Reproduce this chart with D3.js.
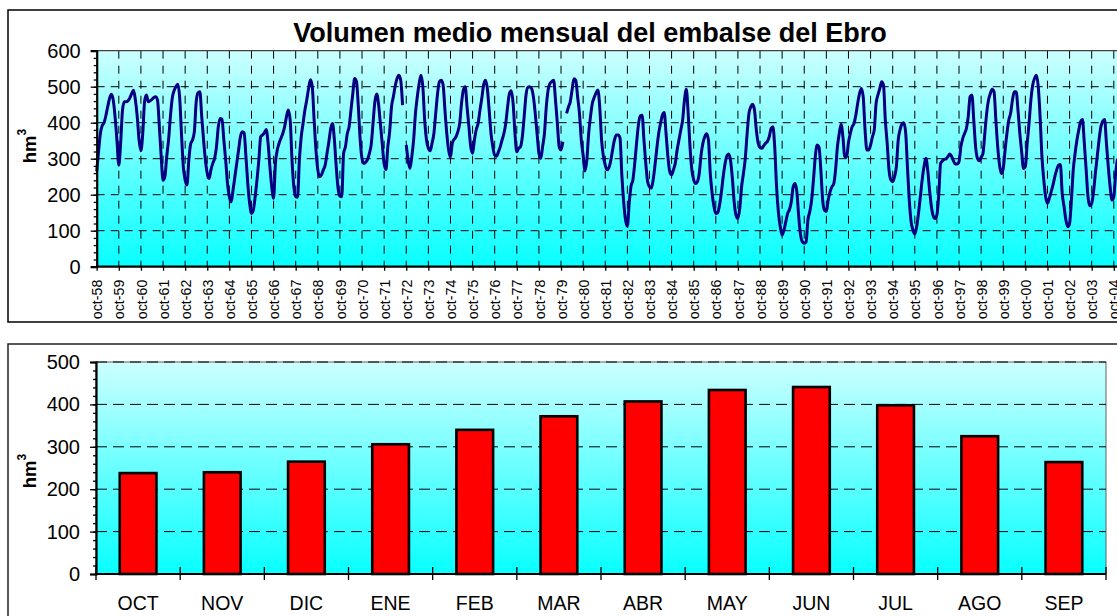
<!DOCTYPE html>
<html>
<head>
<meta charset="utf-8">
<script src="https://cdn.jsdelivr.net/npm/d3@7"></script>
<style>
  html, body { margin: 0; padding: 0; background: #fff; }
  svg { display: block; font-family: "Liberation Sans", Arial, sans-serif; }
</style>
</head>
<body>
<svg id="chart" width="1117" height="616"></svg>
<script>
// ---- data -------------------------------------------------------------
const titleText = "Volumen medio mensual del embalse del Ebro";
const unitLabel = "hm";

// tick labels, one per hydrological year start
const yearLabels = [
  "oct-58","oct-59","oct-60","oct-61","oct-62","oct-63","oct-64","oct-65","oct-66","oct-67",
  "oct-68","oct-69","oct-70","oct-71","oct-72","oct-73","oct-74","oct-75","oct-76","oct-77",
  "oct-78","oct-79","oct-80","oct-81","oct-82","oct-83","oct-84","oct-85","oct-86","oct-87",
  "oct-88","oct-89","oct-90","oct-91","oct-92","oct-93","oct-94","oct-95","oct-96","oct-97",
  "oct-98","oct-99","oct-00","oct-01","oct-02","oct-03","oct-04"
];

// monthly mean volume (hm3), one row per hydrological year, Oct -> Sep; null = no record
const monthlyVolume = [
  [265, 320, 370, 392, 400, 420, 445, 468, 479, 462, 415, 350],
  [282, 343, 435, 458, 458, 461, 469, 481, 490, 463, 417, 352],
  [322, 370, 460, 477, 458, 461, 465, 470, 472, 463, 389, 306],
  [240, 250, 306, 352, 417, 468, 489, 500, 507, 472, 370, 278],
  [241, 227, 296, 341, 352, 375, 458, 483, 486, 417, 352, 296],
  [259, 245, 269, 287, 301, 333, 389, 412, 410, 352, 296, 231],
  [194, 180, 213, 250, 287, 324, 361, 375, 372, 306, 231, 176],
  [148, 157, 194, 241, 296, 361, 366, 372, 381, 343, 278, 222],
  [190, 287, 324, 343, 357, 370, 389, 417, 435, 407, 296, 222],
  [194, 193, 296, 361, 398, 435, 463, 495, 519, 500, 407, 324],
  [269, 250, 255, 269, 282, 315, 347, 384, 398, 352, 278, 218],
  [196, 194, 315, 333, 370, 389, 435, 481, 523, 514, 444, 352],
  [300, 287, 290, 298, 315, 340, 400, 460, 480, 450, 395, 340],
  [285, 270, 333, 375, 444, 472, 502, 523, 532, 518, 449, null],
  [338, 296, 273, 305, 352, 426, 472, 509, 532, 500, 407, 352],
  [329, 322, 343, 370, 426, 481, 514, 518, 505, 435, 370, 324],
  [304, 343, 354, 361, 375, 398, 454, 491, 500, 444, 389, 333],
  [315, 352, 381, 398, 435, 468, 505, 518, 495, 435, 370, 333],
  [310, 307, 319, 333, 352, 370, 398, 444, 481, 489, 454, 370],
  [319, 329, 333, 361, 417, 477, 498, 500, 495, 472, 426, 370],
  [315, 301, 333, 370, 444, 491, 509, 514, 518, 463, 398, 333],
  [324, 347, null, 426, 443, 458, 491, 522, 518, 472, 426, 352],
  [310, 266, 296, 370, 417, 454, 470, 483, 491, 444, 352, 306],
  [282, 269, 275, 295, 325, 352, 366, 366, 358, 255, 180, 130],
  [112, 176, 224, 241, 287, 343, 394, 419, 421, 352, 287, 236],
  [222, 218, 241, 282, 329, 370, 398, 421, 428, 370, 306, 264],
  [255, 269, 287, 324, 352, 380, 407, 463, 493, 426, 333, 269],
  [241, 231, 236, 259, 310, 343, 361, 369, 352, 259, 204, 167],
  [148, 150, 170, 205, 250, 285, 308, 313, 295, 245, 178, 142],
  [134, 162, 222, 259, 301, 370, 426, 444, 451, 435, 380, 343],
  [331, 329, 336, 343, 348, 361, 384, 389, 330, 220, 150, 110],
  [88, 102, 125, 148, 159, 181, 222, 231, 208, 139, 88, 69],
  [65, 69, 130, 153, 185, 241, 306, 338, 333, 269, 185, 157],
  [153, 185, 208, 222, 230, 269, 333, 370, 396, 360, 305, 305],
  [345, 370, 389, 398, 421, 454, 481, 495, 472, 380, 324, 324],
  [338, 361, 380, 454, 477, 495, 514, 505, 407, 343, 269, 241],
  [236, 250, 278, 352, 380, 396, 400, 375, 278, 185, 125, 102],
  [91, 111, 148, 194, 241, 278, 301, 269, 213, 167, 141, 134],
  [144, 200, 287, 294, 298, 300, 306, 313, 306, 294, 285, 285],
  [292, 333, 356, 370, 384, 417, 472, 477, 407, 333, 301, 294],
  [304, 315, 370, 426, 463, 481, 493, 486, 407, 333, 282, 259],
  [273, 324, 370, 407, 426, 463, 486, 486, 435, 370, 319, 273],
  [278, 343, 398, 463, 505, 523, 532, 500, 417, 306, 241, 194],
  [176, 190, 208, 227, 250, 269, 282, 284, 204, 167, 130, 111],
  [120, 185, 269, 315, 352, 380, 403, 409, 343, 269, 194, 169],
  [176, 208, 259, 306, 352, 389, 404, 409, 343, 278, 222, 185],
  [194, 259, 300]
];

// mean volume for each calendar month
const monthNames = ["OCT","NOV","DIC","ENE","FEB","MAR","ABR","MAY","JUN","JUL","AGO","SEP"];
const monthlyMean = [238, 240, 265, 306, 340, 372, 407, 434, 441, 398, 325, 264];

const lineTicks = [0, 100, 200, 300, 400, 500, 600];
const barTicks = [0, 100, 200, 300, 400, 500];

// ---- drawing ----------------------------------------------------------
(function draw() {
  const svg = d3.select("#chart");
  const FONT = '"Liberation Sans", Arial, sans-serif';

  const defs = svg.append("defs");
  const grad = defs.append("linearGradient")
    .attr("id", "plotFill").attr("x1", 0).attr("y1", 0).attr("x2", 0).attr("y2", 1);
  grad.append("stop").attr("offset", "0%").attr("stop-color", "#ccffff");
  grad.append("stop").attr("offset", "100%").attr("stop-color", "#08ffff");

  // rotated "hm³" axis title
  function unitTitle(cx, cy) {
    const t = svg.append("text")
      .attr("transform", `translate(${cx},${cy}) rotate(-90)`)
      .attr("text-anchor", "middle")
      .attr("font-size", 18.5).attr("font-weight", "bold").attr("font-family", FONT);
    t.append("tspan").text(unitLabel);
    t.append("tspan").attr("dy", -10).attr("font-size", 12).text("3");
  }

  // ======================= line panel =======================
  const pA = { boxX: 8, boxY: 10, boxW: 1180, boxH: 312,
               left: 96.7, right: 1140, y0: 266.7, y1: 50.7 };

  svg.append("rect")
    .attr("x", pA.boxX).attr("y", pA.boxY)
    .attr("width", pA.boxW).attr("height", pA.boxH)
    .attr("fill", "#fff").attr("stroke", "#000").attr("stroke-width", 1.5);

  const series = monthlyVolume.flat();
  const nMonths = (yearLabels.length - 1) * 12;

  const xT = d3.scaleLinear().domain([0, nMonths]).range([pA.left, 1113.8]);
  const yT = d3.scaleLinear().domain([0, 600]).range([pA.y0, pA.y1]);

  svg.append("rect")
    .attr("x", pA.left).attr("y", pA.y1)
    .attr("width", pA.right - pA.left).attr("height", pA.y0 - pA.y1)
    .attr("fill", "url(#plotFill)");

  // horizontal grid
  svg.append("g").selectAll("line")
    .data(lineTicks.filter(v => v > 0 && v < 600))
    .join("line")
    .attr("x1", pA.left).attr("x2", pA.right)
    .attr("y1", d => yT(d)).attr("y2", d => yT(d))
    .attr("stroke", "#000").attr("stroke-width", 1)
    .attr("stroke-dasharray", "8,6");

  // vertical grid, one per year
  svg.append("g").selectAll("line")
    .data(d3.range(1, yearLabels.length))
    .join("line")
    .attr("x1", i => xT(i * 12)).attr("x2", i => xT(i * 12))
    .attr("y1", pA.y1).attr("y2", pA.y0)
    .attr("stroke", "#000").attr("stroke-width", 1)
    .attr("stroke-dasharray", "8,7");

  // plot-area top border
  svg.append("line")
    .attr("x1", pA.left).attr("x2", pA.right)
    .attr("y1", pA.y1).attr("y2", pA.y1)
    .attr("stroke", "#404040").attr("stroke-width", 1.2);

  // volume line
  const line = d3.line()
    .defined(d => d != null)
    .x((d, i) => xT(i))
    .y(d => yT(d))
    .curve(d3.curveMonotoneX);

  svg.append("path")
    .datum(series)
    .attr("d", line)
    .attr("fill", "none")
    .attr("stroke", "#000080")
    .attr("stroke-width", 3)
    .attr("stroke-linejoin", "round");

  // y axis (major + minor ticks)
  const yMinorT = svg.append("g").attr("transform", `translate(${pA.left},0)`)
    .call(d3.axisLeft(yT).tickValues(d3.range(0, 601, 20)).tickSize(3).tickFormat(""));
  yMinorT.select(".domain").remove();
  const yMajorT = svg.append("g").attr("transform", `translate(${pA.left},0)`)
    .call(d3.axisLeft(yT).tickValues(lineTicks).tickSize(6).tickPadding(10));
  yMajorT.selectAll("text").attr("font-size", 20).attr("font-family", FONT).attr("fill", "#000");
  yMajorT.select(".domain").attr("stroke", "#000").attr("stroke-width", 2.2);

  // x axis with rotated year labels
  const xAxisT = svg.append("g").attr("transform", `translate(0,${pA.y0})`)
    .call(d3.axisBottom(xT)
      .tickValues(d3.range(0, yearLabels.length).map(i => i * 12))
      .tickSize(4)
      .tickFormat(v => yearLabels[v / 12]));
  xAxisT.select(".domain").attr("d", `M${pA.left},0H${pA.right}`)
    .attr("stroke", "#000").attr("stroke-width", 2.2);
  xAxisT.selectAll("text")
    .attr("font-size", 14.2).attr("font-family", FONT).attr("fill", "#000")
    .attr("text-anchor", "end")
    .attr("transform", "rotate(-90)")
    .attr("x", -13).attr("y", 0).attr("dy", "0.36em");

  // title
  svg.append("text")
    .attr("x", 590).attr("y", 42)
    .attr("text-anchor", "middle")
    .attr("font-size", 27).attr("font-weight", "bold").attr("font-family", FONT)
    .text(titleText);

  unitTitle(35.5, 146);

  // ======================= bar panel =======================
  const pB = { boxX: 8, boxY: 344, boxW: 1180, boxH: 290,
               left: 96, right: 1106, y0: 574, y1: 362 };

  svg.append("rect")
    .attr("x", pB.boxX).attr("y", pB.boxY)
    .attr("width", pB.boxW).attr("height", pB.boxH)
    .attr("fill", "#fff").attr("stroke", "#222").attr("stroke-width", 1.5);

  const xB = d3.scaleBand().domain(monthNames)
    .range([pB.left, pB.right]).paddingInner(0.564).paddingOuter(0.282);
  const yB = d3.scaleLinear().domain([0, 500]).range([pB.y0, pB.y1]);

  svg.append("rect")
    .attr("x", pB.left).attr("y", pB.y1)
    .attr("width", pB.right - pB.left).attr("height", pB.y0 - pB.y1)
    .attr("fill", "url(#plotFill)")
    .attr("stroke", "#606060").attr("stroke-width", 1);

  svg.append("g").selectAll("line")
    .data(barTicks.filter(v => v > 0))
    .join("line")
    .attr("x1", pB.left).attr("x2", pB.right)
    .attr("y1", d => yB(d)).attr("y2", d => yB(d))
    .attr("stroke", "#000").attr("stroke-width", 1)
    .attr("stroke-dasharray", "11,6");

  svg.append("g").selectAll("rect")
    .data(monthNames.map((m, i) => ({ m, v: monthlyMean[i] })))
    .join("rect")
    .attr("x", d => xB(d.m)).attr("width", xB.bandwidth())
    .attr("y", d => yB(d.v)).attr("height", d => yB(0) - yB(d.v))
    .attr("fill", "#ff0000").attr("stroke", "#000").attr("stroke-width", 2.6);

  const yMinorB = svg.append("g").attr("transform", `translate(${pB.left},0)`)
    .call(d3.axisLeft(yB).tickValues(d3.range(0, 501, 20)).tickSize(3).tickFormat(""));
  yMinorB.select(".domain").remove();
  const yMajorB = svg.append("g").attr("transform", `translate(${pB.left},0)`)
    .call(d3.axisLeft(yB).tickValues(barTicks).tickSize(6).tickPadding(10));
  yMajorB.selectAll("text").attr("font-size", 20).attr("font-family", FONT).attr("fill", "#000");
  yMajorB.select(".domain").attr("stroke", "#000").attr("stroke-width", 2.2);

  svg.selectAll(".tick line").attr("stroke", "#000").attr("stroke-width", 1.3);

  // category axis: baseline, boundary ticks and labels
  svg.append("line")
    .attr("x1", pB.left).attr("x2", pB.right)
    .attr("y1", pB.y0).attr("y2", pB.y0)
    .attr("stroke", "#000").attr("stroke-width", 2.2);
  svg.append("g").selectAll("line")
    .data(d3.range(monthNames.length + 1))
    .join("line")
    .attr("x1", k => pB.left + k * xB.step()).attr("x2", k => pB.left + k * xB.step())
    .attr("y1", pB.y0 - 7).attr("y2", pB.y0 + 6)
    .attr("stroke", "#000").attr("stroke-width", 1.3);
  svg.append("g").selectAll("text")
    .data(monthNames)
    .join("text")
    .attr("x", d => xB(d) + xB.bandwidth() / 2)
    .attr("y", 610)
    .attr("text-anchor", "middle")
    .attr("font-size", 19.5).attr("font-family", FONT)
    .text(d => d);

  unitTitle(35.5, 471);
})();
</script>
</body>
</html>
